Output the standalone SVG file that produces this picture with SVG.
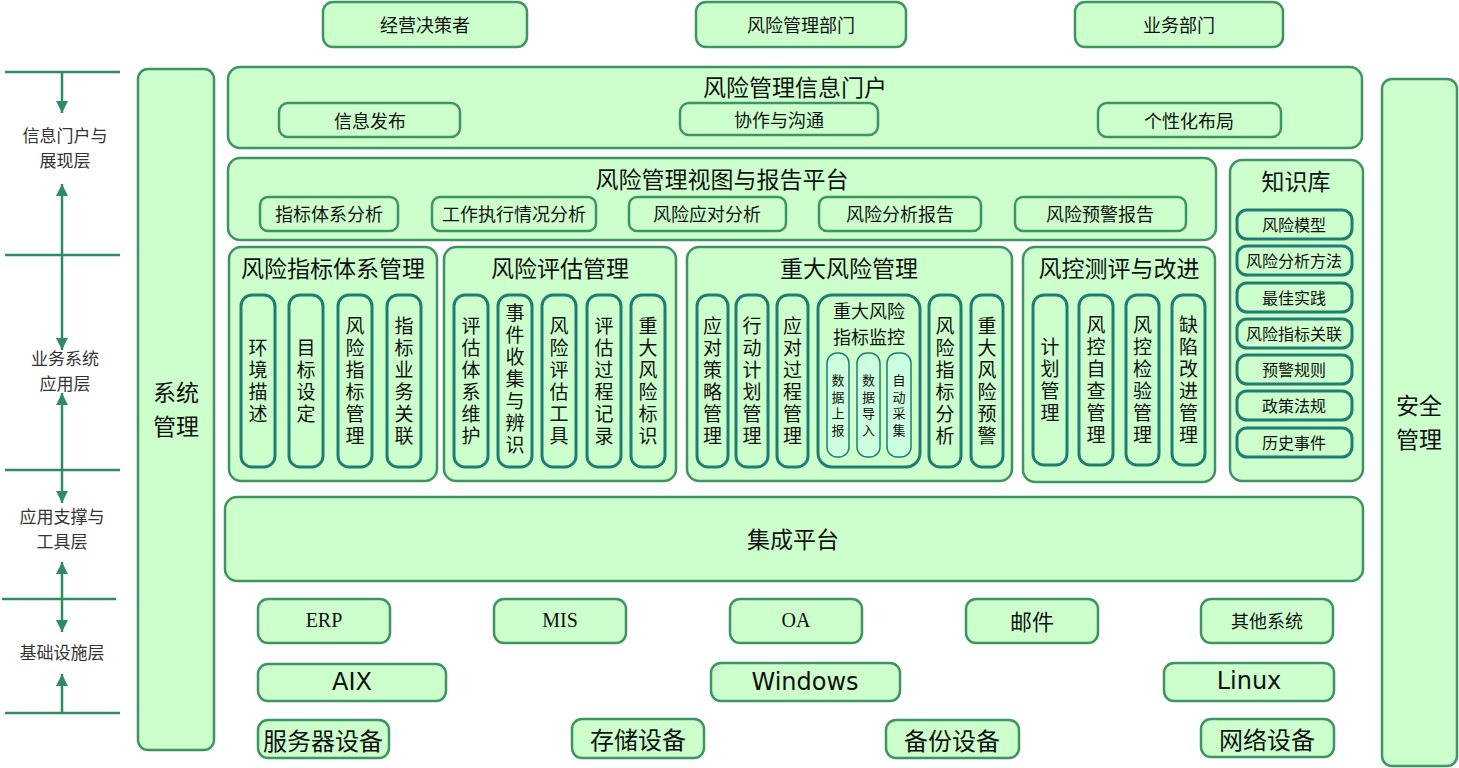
<svg xmlns="http://www.w3.org/2000/svg" width="1459" height="768" viewBox="0 0 1459 768">
<defs>
<style>
.bx{fill:#ccffcc;stroke:#3f9464;stroke-width:2.5}
.in{fill:#ccffcc;stroke:#1f7d72;stroke-width:3}
.sm{fill:#ccffdd;stroke:#1f7d72;stroke-width:1.5}
text{font-family:"Noto Sans CJK SC","Noto Sans",sans-serif;fill:#111;text-anchor:middle;dominant-baseline:central}
.lbl{font-size:17px;fill:#333}
.t18{font-size:18px}
.t16{font-size:16px}
.t23{font-size:23px}
.t24{font-size:24px}
.v{font-size:19px;writing-mode:vertical-rl;letter-spacing:3px}
.s{font-size:13px;writing-mode:vertical-rl;letter-spacing:3.5px}
.ser{font-family:"Liberation Serif",serif;font-size:20px}
.dv{font-family:"DejaVu Sans",sans-serif;font-size:24px}
.ax{stroke:#2e8b63;stroke-width:2.5;fill:none}
</style>
<marker id="ah" viewBox="0 0 12 12" refX="12" refY="6" markerWidth="12" markerHeight="12" markerUnits="userSpaceOnUse" orient="auto-start-reverse">
<path d="M0,0 L12,6 L0,12 z" fill="#2e8b63"/>
</marker>
</defs>
<rect width="1459" height="768" fill="#fff"/>

<g id="connectors">
<line class="ax" x1="5" y1="72" x2="120" y2="72"/>
<line class="ax" x1="5" y1="255" x2="120" y2="255"/>
<line class="ax" x1="5" y1="470" x2="120" y2="470"/>
<line class="ax" x1="2" y1="599" x2="116" y2="599"/>
<line class="ax" x1="5" y1="713" x2="120" y2="713"/>
<line class="ax" x1="62" y1="72" x2="62" y2="113" marker-end="url(#ah)"/>
<line class="ax" x1="62" y1="184" x2="62" y2="350" marker-start="url(#ah)" marker-end="url(#ah)"/>
<line class="ax" x1="62" y1="393" x2="62" y2="503" marker-start="url(#ah)" marker-end="url(#ah)"/>
<line class="ax" x1="62" y1="562" x2="62" y2="632" marker-start="url(#ah)" marker-end="url(#ah)"/>
<line class="ax" x1="62" y1="713" x2="62" y2="674" marker-end="url(#ah)"/>
</g>

<g id="layer-labels">
<text class="lbl" x="65" y="134">信息门户与</text>
<text class="lbl" x="65" y="159">展现层</text>
<text class="lbl" x="65" y="357">业务系统</text>
<text class="lbl" x="65" y="382">应用层</text>
<text class="lbl" x="62" y="515">应用支撑与</text>
<text class="lbl" x="62" y="540">工具层</text>
<text class="lbl" x="62" y="651">基础设施层</text>
</g>

<g id="sys-mgmt">
<rect class="bx" x="138" y="69" width="76" height="681" rx="10"/>
<text class="t23" x="176" y="391">系统</text>
<text class="t23" x="176" y="425">管理</text>
</g>
<g id="sec-mgmt">
<rect class="bx" x="1382" y="79" width="75" height="687" rx="10"/>
<text class="t23" x="1419" y="404">安全</text>
<text class="t23" x="1419" y="438">管理</text>
</g>

<g id="user-decision">
<rect class="bx" x="323" y="2" width="204" height="45" rx="10"/>
<text class="t18" x="425" y="24">经营决策者</text>
</g>
<g id="user-risk-dept">
<rect class="bx" x="696" y="2" width="210" height="45" rx="10"/>
<text class="t18" x="801" y="24">风险管理部门</text>
</g>
<g id="user-biz-dept">
<rect class="bx" x="1075" y="2" width="208" height="45" rx="10"/>
<text class="t18" x="1179" y="24">业务部门</text>
</g>

<g id="portal">
<rect class="bx" x="228" y="67" width="1134" height="81" rx="12"/>
<text class="t23" x="795" y="86">风险管理信息门户</text>
<rect class="bx" x="279" y="103" width="181" height="34" rx="9"/>
<text class="t18" x="370" y="120">信息发布</text>
<rect class="bx" x="680" y="103" width="198" height="32" rx="9"/>
<text class="t18" x="779" y="119">协作与沟通</text>
<rect class="bx" x="1098" y="103" width="183" height="34" rx="9"/>
<text class="t18" x="1189" y="120">个性化布局</text>
</g>

<g id="report-platform">
<rect class="bx" x="228" y="158" width="988" height="82" rx="12"/>
<text class="t23" x="722" y="178">风险管理视图与报告平台</text>
<rect class="bx" x="260" y="197" width="138" height="34" rx="8"/>
<text class="t18" x="329" y="213">指标体系分析</text>
<rect class="bx" x="432" y="197" width="164" height="34" rx="8"/>
<text class="t18" x="514" y="213">工作执行情况分析</text>
<rect class="bx" x="629" y="197" width="157" height="34" rx="8"/>
<text class="t18" x="707" y="213">风险应对分析</text>
<rect class="bx" x="819" y="197" width="162" height="34" rx="8"/>
<text class="t18" x="900" y="213">风险分析报告</text>
<rect class="bx" x="1015" y="197" width="171" height="34" rx="8"/>
<text class="t18" x="1100" y="213">风险预警报告</text>
</g>

<g id="kb">
<rect class="bx" x="1230" y="160" width="133" height="321" rx="12"/>
<text class="t23" x="1296" y="180">知识库</text>
<rect class="in" x="1237" y="210" width="115" height="29" rx="10"/>
<text class="t16" x="1294" y="224">风险模型</text>
<rect class="in" x="1237" y="246" width="115" height="29" rx="10"/>
<text class="t16" x="1294" y="260">风险分析方法</text>
<rect class="in" x="1237" y="283" width="115" height="29" rx="10"/>
<text class="t16" x="1294" y="297">最佳实践</text>
<rect class="in" x="1237" y="319" width="115" height="29" rx="10"/>
<text class="t16" x="1294" y="333">风险指标关联</text>
<rect class="in" x="1237" y="355" width="115" height="29" rx="10"/>
<text class="t16" x="1294" y="369">预警规则</text>
<rect class="in" x="1237" y="391" width="115" height="29" rx="10"/>
<text class="t16" x="1294" y="405">政策法规</text>
<rect class="in" x="1237" y="428" width="115" height="29" rx="10"/>
<text class="t16" x="1294" y="442">历史事件</text>
</g>

<g id="indicator-mgmt">
<rect class="bx" x="229" y="247" width="208" height="234" rx="12"/>
<text class="t23" x="333" y="267">风险指标体系管理</text>
<rect class="in" x="241" y="295" width="34" height="172" rx="11"/>
<text class="v" x="258" y="382.5">环境描述</text>
<rect class="in" x="289" y="295" width="34" height="172" rx="11"/>
<text class="v" x="306" y="382.5">目标设定</text>
<rect class="in" x="338" y="295" width="34" height="172" rx="11"/>
<text class="v" x="355" y="382.5">风险指标管理</text>
<rect class="in" x="387" y="295" width="34" height="172" rx="11"/>
<text class="v" x="404" y="382.5">指标业务关联</text>
</g>

<g id="assessment-mgmt">
<rect class="bx" x="444" y="247" width="232" height="234" rx="12"/>
<text class="t23" x="560" y="267">风险评估管理</text>
<rect class="in" x="454" y="295" width="34" height="172" rx="11"/>
<text class="v" x="471" y="382.5">评估体系维护</text>
<rect class="in" x="498" y="295" width="34" height="172" rx="11"/>
<text class="v" x="515" y="380">事件收集与辨识</text>
<rect class="in" x="542" y="295" width="34" height="172" rx="11"/>
<text class="v" x="559" y="382.5">风险评估工具</text>
<rect class="in" x="587" y="295" width="34" height="172" rx="11"/>
<text class="v" x="604" y="382.5">评估过程记录</text>
<rect class="in" x="631" y="295" width="34" height="172" rx="11"/>
<text class="v" x="648" y="382.5">重大风险标识</text>
</g>

<g id="major-risk-mgmt">
<rect class="bx" x="687" y="247" width="325" height="234" rx="12"/>
<text class="t23" x="849" y="267">重大风险管理</text>
<rect class="in" x="697" y="295" width="31" height="172" rx="11"/>
<text class="v" x="712.5" y="382.5">应对策略管理</text>
<rect class="in" x="736" y="295" width="32" height="172" rx="11"/>
<text class="v" x="752" y="382.5">行动计划管理</text>
<rect class="in" x="777" y="295" width="31" height="172" rx="11"/>
<text class="v" x="792.5" y="382.5">应对过程管理</text>
<rect class="in" x="818" y="295" width="102" height="172" rx="14"/>
<text class="t18" x="869" y="310">重大风险</text>
<text class="t18" x="869" y="336">指标监控</text>
<rect class="sm" x="827" y="353" width="22" height="104" rx="10"/>
<text class="s" x="838" y="407">数据上报</text>
<rect class="sm" x="857" y="353" width="23" height="104" rx="10"/>
<text class="s" x="868.5" y="407">数据导入</text>
<rect class="sm" x="887" y="353" width="24" height="104" rx="10"/>
<text class="s" x="899" y="407">自动采集</text>
<rect class="in" x="929" y="295" width="32" height="172" rx="11"/>
<text class="v" x="945" y="382.5">风险指标分析</text>
<rect class="in" x="971" y="295" width="32" height="172" rx="11"/>
<text class="v" x="987" y="382.5">重大风险预警</text>
</g>

<g id="control-eval">
<rect class="bx" x="1023" y="247" width="192" height="235" rx="12"/>
<text class="t23" x="1119" y="267">风控测评与改进</text>
<rect class="in" x="1033" y="295" width="34" height="170" rx="11"/>
<text class="v" x="1050" y="381">计划管理</text>
<rect class="in" x="1079" y="295" width="34" height="170" rx="11"/>
<text class="v" x="1096" y="381">风控自查管理</text>
<rect class="in" x="1126" y="295" width="33" height="170" rx="11"/>
<text class="v" x="1142.5" y="381">风控检验管理</text>
<rect class="in" x="1172" y="295" width="33" height="170" rx="11"/>
<text class="v" x="1188.5" y="381">缺陷改进管理</text>
</g>

<g id="integration">
<rect class="bx" x="225" y="497" width="1138" height="84" rx="12"/>
<text class="t23" x="793" y="538">集成平台</text>
</g>

<g id="erp"><rect class="bx" x="258" y="599" width="132" height="44" rx="10"/><text class="ser" x="324" y="620">ERP</text></g>
<g id="mis"><rect class="bx" x="494" y="599" width="132" height="44" rx="10"/><text class="ser" x="560" y="620">MIS</text></g>
<g id="oa"><rect class="bx" x="730" y="599" width="132" height="44" rx="10"/><text class="ser" x="796" y="620">OA</text></g>
<g id="mail"><rect class="bx" x="966" y="599" width="132" height="44" rx="10"/><text style="font-size:22px" x="1032" y="620">邮件</text></g>
<g id="other"><rect class="bx" x="1201" y="599" width="132" height="44" rx="10"/><text class="t18" x="1267" y="620">其他系统</text></g>

<g id="aix"><rect class="bx" x="258" y="664" width="188" height="37" rx="10"/><text class="dv" x="352" y="682">AIX</text></g>
<g id="windows"><rect class="bx" x="711" y="663" width="189" height="38" rx="10"/><text class="dv" x="805" y="682">Windows</text></g>
<g id="linux"><rect class="bx" x="1164" y="663" width="170" height="38" rx="10"/><text class="dv" x="1249" y="681">Linux</text></g>

<g id="server"><rect class="bx" x="258" y="720" width="131" height="38" rx="10"/><text class="t24" x="323" y="739">服务器设备</text></g>
<g id="storage"><rect class="bx" x="572" y="719" width="132" height="39" rx="10"/><text class="t24" x="638" y="738">存储设备</text></g>
<g id="backup"><rect class="bx" x="886" y="720" width="133" height="38" rx="10"/><text class="t24" x="952" y="739">备份设备</text></g>
<g id="network"><rect class="bx" x="1201" y="719" width="133" height="38" rx="10"/><text class="t24" x="1267" y="738">网络设备</text></g>
</svg>
